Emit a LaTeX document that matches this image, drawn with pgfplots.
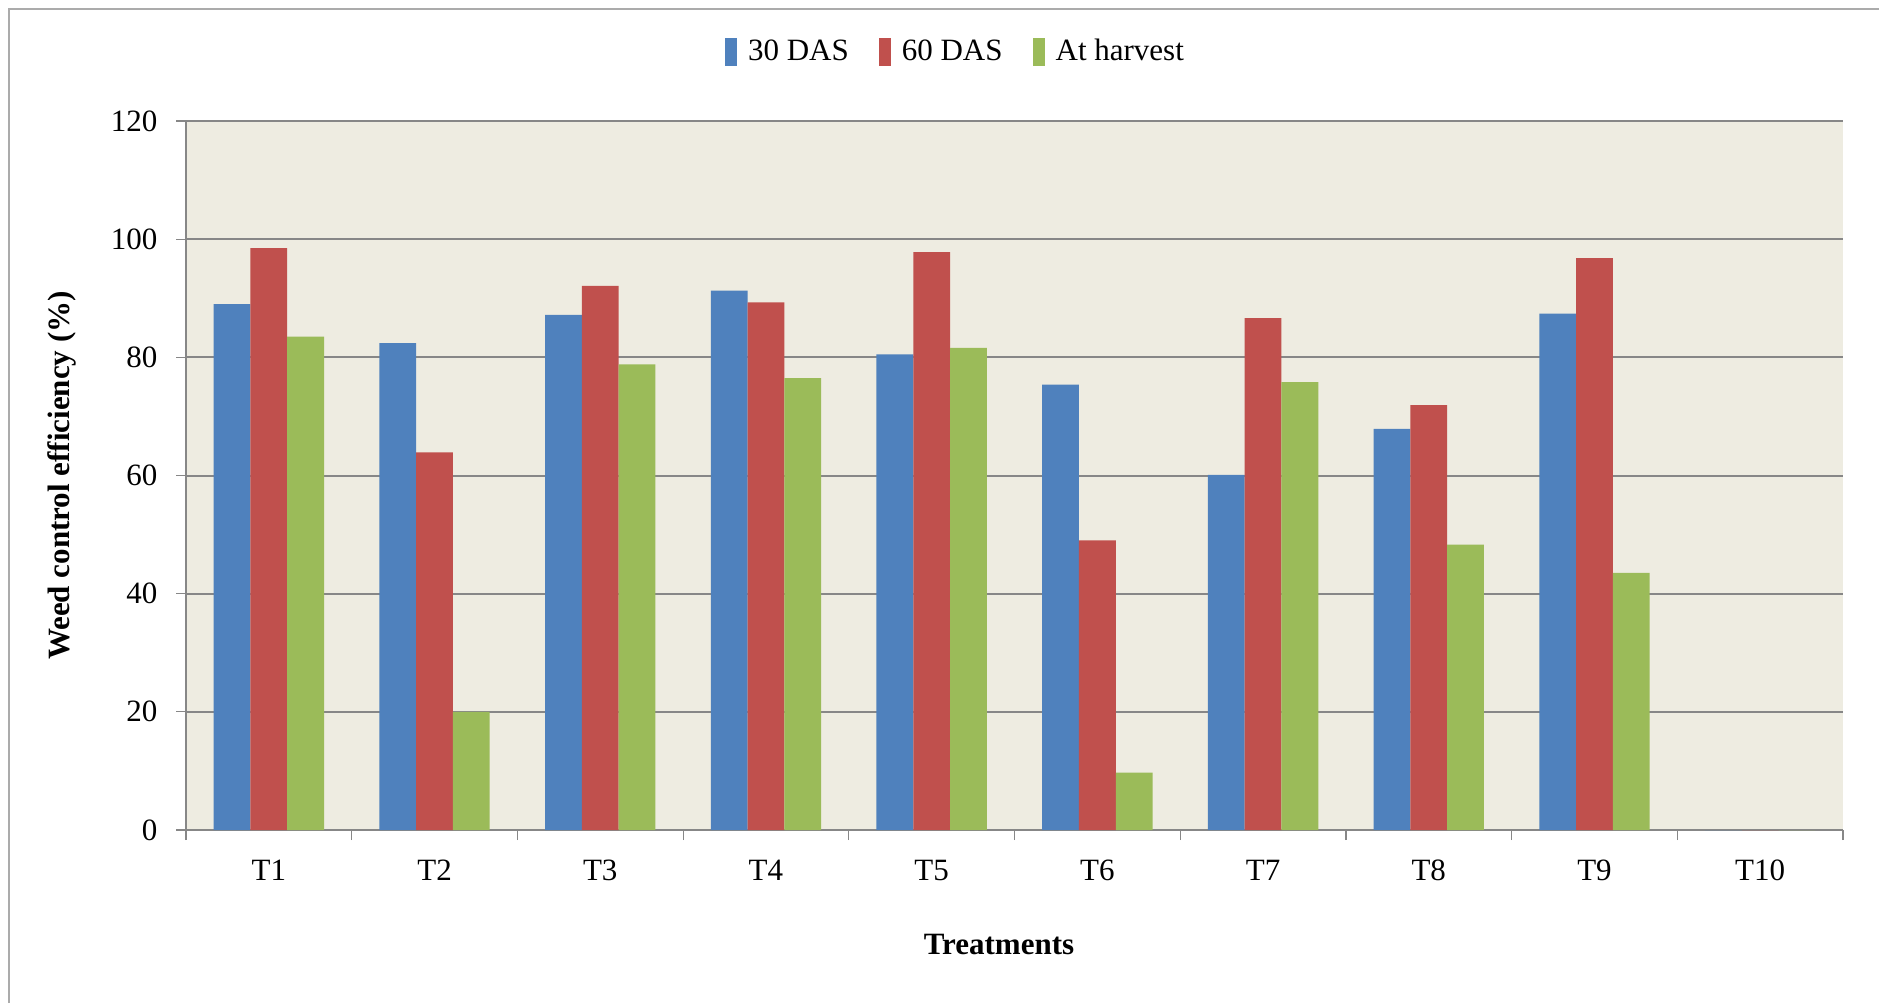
\documentclass[border=0pt]{standalone}
\usepackage{pgfplots}
\pgfplotsset{compat=1.18}
\usepackage{fontspec}
\setmainfont{Liberation Serif}
\definecolor{cblue}{HTML}{4F81BD}
\definecolor{cred}{HTML}{C0504D}
\definecolor{cgreen}{HTML}{9BBB59}
\definecolor{bgcol}{HTML}{EEECE1}
\definecolor{gridcol}{HTML}{878787}
\begin{document}
\fontsize{15.5}{18}\selectfont
\begin{tikzpicture}
\useasboundingbox (0pt,0pt) rectangle (939.5pt,501.5pt);
\draw[gridcol!70, line width=1pt] (4.5pt,0pt) -- (4.5pt,497pt) -- (939.5pt,497pt);
\begin{axis}[
  at={(93pt,86.5pt)}, anchor=south west,
  scale only axis, width=828.5pt, height=354.5pt,
  xmin=-0.5, xmax=9.5, ymin=0, ymax=120,
  axis background/.style={fill=bgcol},
  axis x line*=bottom, axis y line*=left,
  axis line style={gridcol, line width=1.2pt},
  ymajorgrids, major grid style={gridcol, line width=1pt},
  ytick={0,20,...,120},
  tick align=outside,
  tick style={gridcol, line width=0.6pt},
  major tick length=5pt,
  xtick={-0.5,0.5,...,9.5}, xticklabels={},
  extra x ticks={0,1,2,3,4,5,6,7,8,9},
  extra x tick labels={T1,T2,T3,T4,T5,T6,T7,T8,T9,T10},
  extra x tick style={major tick length=0pt, tick style={draw=none}},
  xticklabel style={anchor=center, yshift=-20pt, font=\fontsize{15.5}{18}\selectfont},
  yticklabel style={font=\fontsize{15.5}{18}\selectfont, xshift=-4pt},
  /pgf/number format/assume math mode=true,
  ylabel={\textbf{Weed control efficiency (\%)}},
  ylabel style={at={(axis description cs:-0.0748,0.5)}, anchor=center, rotate=0},
  xlabel={\textbf{Treatments}},
  xlabel style={at={(axis description cs:0.4906,-0.1608)}, anchor=center},
  label style={font=\fontsize{15.5}{18}\selectfont},
  ybar, bar width=0.222,
  legend columns=3,
  legend style={at={(axis description cs:0.465,1.097)}, anchor=center, draw=none, fill=none,
    font=\fontsize{15.5}{18}\selectfont,
    /tikz/every even column/.append style={column sep=13pt},
    /tikz/every odd column/.append style={column sep=3.5pt}},
  legend image code/.code={\fill[#1] (0pt,-7pt) rectangle (6pt,7pt);},
]
\addplot[fill=cblue, draw=none, bar shift=-0.222] coordinates {
(0,89.0) (1,82.4) (2,87.2) (3,91.3) (4,80.5) (5,75.4) (6,60.1) (7,67.9) (8,87.4) (9,0)};
\addplot[fill=cred, draw=none, bar shift=0] coordinates {
(0,98.5) (1,63.9) (2,92.1) (3,89.3) (4,97.8) (5,49.0) (6,86.65) (7,71.9) (8,96.8) (9,0)};
\addplot[fill=cgreen, draw=none, bar shift=0.222] coordinates {
(0,83.5) (1,20.0) (2,78.8) (3,76.5) (4,81.6) (5,9.7) (6,75.8) (7,48.3) (8,43.5) (9,0)};
\legend{30 DAS,60 DAS,At harvest}
\end{axis}
\end{tikzpicture}
\end{document}
